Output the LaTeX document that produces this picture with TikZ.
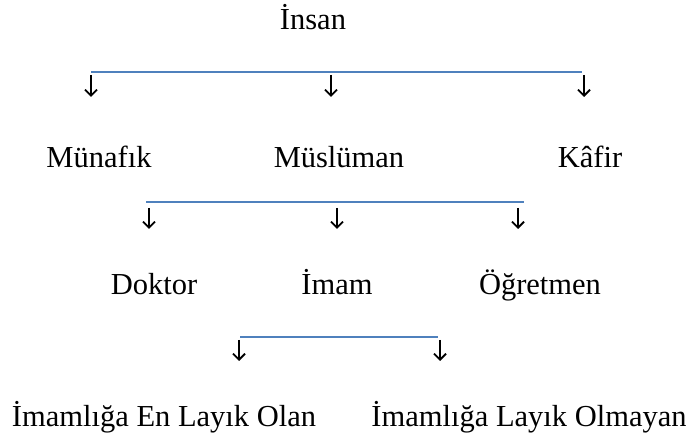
\documentclass[tikz,border=0pt]{standalone}
\usepackage{fontspec}
\setmainfont{Liberation Serif}
\usetikzlibrary{arrows.meta}
\definecolor{linkblue}{HTML}{4F81BD}
\tikzset{
  label/.style={anchor=base, inner sep=0pt, font=\fontsize{30.5}{36}\selectfont},
  bar/.style={draw=linkblue, line width=1.6pt},
  down/.style={draw=black, line width=2pt, -{Straight Barb[length=6pt,width=12pt,line width=1.8pt]}}
}
\begin{document}
\begin{tikzpicture}[x=1pt,y=-1pt]
\useasboundingbox (0,0) rectangle (686,435);
% texts
\node[label] (insan) at (313,30) {İnsan};
\node[label] (munafik) at (99,168) {Münafık};
\node[label] (musluman) at (339,168) {Müslüman};
\node[label] (kafir) at (590,168) {Kâfir};
\node[label] (doktor) at (154,295) {Doktor};
\node[label] (imam) at (337,295) {İmam};
\node[label] (ogretmen) at (540,295) {Öğretmen};
\node[label] (enlayik) at (164,427) {İmamlığa En Layık Olan};
\node[label] (layikdegil) at (529,427) {İmamlığa Layık Olmayan};
% bar 1
\coordinate (b1l) at (91,72);
\coordinate (b1r) at (582,72);
\draw[bar] (b1l) -- (b1r);
\coordinate (a1s) at (91,75);   \coordinate (a1e) at (91,97);
\coordinate (a2s) at (331,75);  \coordinate (a2e) at (331,97);
\coordinate (a3s) at (584,75);  \coordinate (a3e) at (584,97);
\draw[down] (a1s) -- (a1e);
\draw[down] (a2s) -- (a2e);
\draw[down] (a3s) -- (a3e);
% bar 2
\coordinate (b2l) at (146,202);
\coordinate (b2r) at (524,202);
\draw[bar] (b2l) -- (b2r);
\coordinate (c1s) at (149,208);  \coordinate (c1e) at (149,229);
\coordinate (c2s) at (337,208);  \coordinate (c2e) at (337,229);
\coordinate (c3s) at (518,208);  \coordinate (c3e) at (518,229);
\draw[down] (c1s) -- (c1e);
\draw[down] (c2s) -- (c2e);
\draw[down] (c3s) -- (c3e);
% bar 3
\coordinate (b3l) at (240,337);
\coordinate (b3r) at (438,337);
\draw[bar] (b3l) -- (b3r);
\coordinate (d1s) at (239,340);  \coordinate (d1e) at (239,361);
\coordinate (d2s) at (440,340);  \coordinate (d2e) at (440,361);
\draw[down] (d1s) -- (d1e);
\draw[down] (d2s) -- (d2e);
\end{tikzpicture}
\end{document}
